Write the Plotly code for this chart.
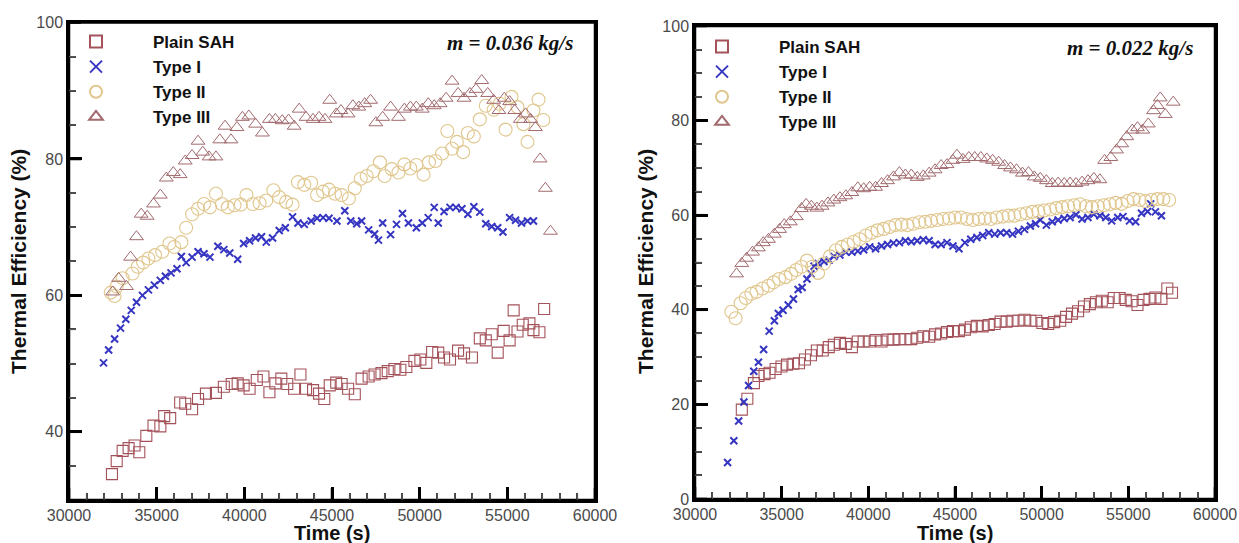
import plotly.graph_objects as go

# ---------------- data ----------------
series_names = ["Plain SAH", "Type I", "Type II", "Type III"]
x_ticks = [30000, 35000, 40000, 45000, 50000, 55000, 60000]
x_minor_ticks = [v for v in range(31000, 60000, 1000) if v % 5000]
left_y_ticks = [40, 60, 80, 100]
left_y_minor = [35, 45, 50, 55, 65, 70, 75, 85, 90, 95]
right_y_ticks = [0, 20, 40, 60, 80, 100]
right_y_minor = [5, 10, 15, 25, 30, 35, 45, 50, 55, 65, 70, 75, 85, 90, 95]
left_note = "m = 0.036 kg/s"
right_note = "m = 0.022 kg/s"

# Left panel: m = 0.036 kg/s
L_plain_t = [32450, 32720, 33060, 33400, 33740, 34010, 34410, 34820, 35210, 35430, 35770, 36340, 36630, 37020, 37360,
             37810, 38380, 38830, 39280, 39620, 39960, 40300, 40710, 41090, 41430, 41770, 42110, 42450, 42840, 43200,
             43520, 43920, 44260, 44560, 44870, 45240, 45550, 45920, 46300, 46690, 47090, 47430, 47820, 48180, 48560,
             48900, 49240, 49700, 50040, 50380, 50710, 51060, 51390, 51730, 52190, 52530, 52980, 53430, 53770, 54110,
             54450, 54790, 55130, 55360, 55580, 55880, 56260, 56490, 56830, 57100]
L_plain_eff = [33.8, 35.7, 37.2, 37.6, 38.0, 37.0, 39.4, 40.9, 40.8, 42.3, 42.0, 44.3, 44.1, 43.3, 44.8,
               45.6, 45.7, 46.6, 47.0, 47.1, 46.8, 46.3, 47.6, 48.1, 45.8, 47.1, 47.8, 47.0, 46.3, 48.4,
               46.3, 46.1, 45.6, 44.8, 46.8, 47.2, 47.0, 46.3, 45.5, 47.8, 48.1, 48.4, 48.6, 48.9, 49.2,
               49.1, 49.5, 50.4, 50.6, 50.1, 51.7, 51.6, 50.9, 50.6, 51.9, 51.5, 50.9, 53.7, 53.4, 54.3,
               51.6, 54.8, 53.4, 57.8, 54.7, 55.7, 55.9, 54.9, 54.6, 58.0]

L_t1_t = [31970, 32260, 32600, 32940, 33240, 33550, 33850, 34190, 34530, 34870, 35210, 35500, 35820, 36160, 36410,
          36680, 37020, 37360, 37700, 38040, 38490, 38830, 39170, 39620, 39960, 40300, 40640, 40980, 41250, 41610,
          41990, 42340, 42750, 43060, 43420, 43810, 44150, 44490, 44830, 45280, 45730, 46070, 46410, 46690, 47090,
          47430, 47650, 47890, 48340, 48680, 49020, 49360, 49810, 50150, 50490, 50830, 51060, 51390, 51730, 52070,
          52410, 52750, 53090, 53430, 53770, 54110, 54450, 54750, 55130, 55470, 55810, 56150, 56490]
L_t1_eff = [50.1, 52.0, 53.6, 55.2, 56.5, 57.8, 59.0, 60.0, 60.8, 61.5, 62.2, 62.8, 63.3, 63.9, 65.7,
            64.8, 65.6, 66.4, 66.1, 65.6, 67.2, 66.7, 66.2, 65.3, 67.6, 68.0, 68.4, 68.6, 67.8, 68.4,
            69.5, 69.9, 71.5, 70.6, 70.4, 70.9, 71.3, 71.4, 71.3, 70.9, 72.4, 70.9, 70.5, 70.9, 69.6,
            69.0, 68.1, 70.6, 68.9, 70.4, 72.0, 70.6, 69.9, 70.6, 71.4, 72.9, 70.6, 72.3, 72.9, 72.9,
            72.7, 71.9, 73.0, 72.2, 70.5, 70.1, 69.9, 69.3, 71.4, 71.0, 70.6, 70.9, 70.9]

L_t2_t = [32380, 32600, 32720, 33060, 33620, 33920, 34230, 34530, 34910, 35320, 35730, 36000, 36410, 36680, 37020,
          37360, 37700, 38040, 38380, 38720, 39060, 39440, 39800, 40120, 40480, 40870, 41250, 41660, 41990, 42380,
          42750, 43060, 43420, 43810, 44150, 44490, 44830, 45170, 45550, 45960, 46300, 46640, 46980, 47360, 47730,
          48000, 48410, 48790, 49130, 49470, 49810, 50220, 50530, 50900, 51280, 51580, 51850, 52120, 52480, 52750,
          53090, 53430, 53770, 54220, 54560, 54900, 55240, 55580, 55920, 56150, 56490, 56780, 57050]
L_t2_eff = [60.4, 59.9, 61.3, 62.5, 63.2, 64.2, 64.8, 65.4, 65.9, 66.4, 67.6, 67.1, 67.8, 69.9, 71.9,
            72.7, 73.4, 72.9, 74.9, 73.4, 72.9, 73.2, 73.3, 74.7, 73.4, 73.5, 73.9, 75.4, 74.4, 73.7,
            73.3, 76.6, 76.2, 76.5, 74.7, 75.2, 75.5, 74.9, 74.7, 74.2, 75.7, 77.1, 77.5, 78.2, 79.5,
            77.5, 78.5, 78.0, 79.2, 78.6, 79.1, 77.7, 79.5, 79.7, 80.8, 84.1, 81.5, 82.5, 81.0, 83.8,
            83.3, 85.8, 87.8, 87.2, 88.1, 84.3, 89.1, 87.6, 85.1, 82.5, 87.1, 88.7, 85.7]

L_t3_t = [32490, 32830, 33280, 33510, 33850, 34120, 34460, 34820, 35210, 35550, 35950, 36340, 36630, 37020, 37360,
          37630, 37990, 38380, 38600, 38900, 39240, 39580, 39890, 40260, 40640, 41030, 41430, 41770, 42160, 42520,
          42840, 43130, 43520, 43920, 44260, 44600, 44870, 45240, 45510, 45920, 46190, 46530, 46870, 47200, 47500,
          47890, 48340, 48790, 49130, 49470, 49810, 50150, 50490, 50830, 51170, 51510, 51850, 52190, 52530, 52870,
          53210, 53540, 53880, 54220, 54520, 54830, 55130, 55420, 55740, 56040, 56330, 56600, 56870, 57170, 57460]
L_t3_eff = [60.5, 62.5, 61.3, 65.6, 68.6, 71.9, 71.6, 73.4, 74.7, 77.2, 78.0, 77.7, 79.7, 80.5, 82.6,
            81.0, 80.3, 80.3, 82.8, 84.8, 82.8, 84.6, 86.1, 86.3, 85.1, 83.8, 85.8, 85.8, 85.6, 85.7,
            84.8, 87.3, 86.1, 85.8, 86.1, 85.8, 88.6, 86.6, 87.1, 86.6, 87.8, 87.6, 88.1, 88.6, 85.3,
            86.1, 87.6, 86.1, 87.3, 87.6, 87.6, 87.3, 88.1, 87.8, 88.1, 88.9, 91.4, 89.6, 88.9, 89.6,
            90.2, 91.5, 89.6, 88.6, 87.1, 88.9, 88.4, 87.1, 85.8, 86.6, 85.8, 84.6, 80.0, 75.7, 69.4]

# Right panel: m = 0.022 kg/s
R_plain_t = [32700, 33020, 33400, 33660, 34010, 34300, 34650, 34990, 35310, 35680, 36000, 36340, 36690, 37030, 37370,
             37720, 38010, 38360, 38700, 39050, 39390, 39730, 40080, 40420, 40760, 41110, 41450, 41790, 42140, 42480,
             42820, 43170, 43510, 43850, 44200, 44540, 44880, 45230, 45570, 45910, 46260, 46600, 46950, 47290, 47630,
             47980, 48320, 48660, 49010, 49350, 49690, 50040, 50380, 50720, 51070, 51410, 51750, 52100, 52440, 52780,
             53130, 53470, 53810, 54160, 54500, 54850, 55190, 55530, 55880, 56220, 56560, 56910, 57250, 57520]
R_plain_eff = [18.9, 21.2, 24.5, 26.0, 26.4, 26.7, 27.5, 28.0, 28.4, 28.6, 28.7, 29.5, 30.4, 31.4, 31.4,
               32.1, 32.6, 33.0, 32.8, 32.1, 33.3, 33.3, 33.3, 33.6, 33.3, 33.7, 33.7, 33.8, 33.8, 33.8,
               34.1, 34.4, 34.3, 34.8, 35.0, 35.3, 35.5, 35.5, 35.8, 36.3, 36.6, 36.5, 36.8, 37.0, 37.5,
               37.5, 37.7, 37.7, 37.9, 37.7, 37.7, 37.2, 37.0, 37.4, 37.7, 38.5, 39.2, 39.7, 40.7, 41.2,
               41.6, 41.9, 41.6, 42.5, 42.5, 42.1, 41.8, 41.0, 42.1, 42.3, 42.6, 42.3, 44.5, 43.6]

R_t1_t = [31880, 32240, 32520, 32820, 33090, 33390, 33660, 33960, 34280, 34580, 34810, 35080, 35380, 35680, 35950,
          36180, 36460, 36690, 36870, 37100, 37440, 37740, 38010, 38360, 38700, 39050, 39390, 39730, 40080, 40420,
          40760, 41110, 41450, 41790, 42140, 42480, 42820, 43170, 43510, 43850, 44200, 44540, 44880, 45230, 45570,
          45910, 46260, 46600, 46950, 47290, 47630, 47980, 48320, 48660, 49010, 49350, 49650, 49920, 50270, 50610,
          50950, 51300, 51640, 51980, 52330, 52670, 53010, 53360, 53700, 54040, 54390, 54690, 55070, 55420, 55760,
          56110, 56290, 56560, 56910]
R_t1_eff = [7.7, 12.3, 16.5, 20.5, 24.0, 27.0, 28.9, 31.6, 35.5, 37.7, 39.2, 39.9, 41.0, 42.3, 44.3,
            44.7, 46.5, 47.6, 49.2, 49.8, 50.2, 50.5, 51.3, 51.6, 52.2, 52.2, 52.4, 52.7, 53.3, 52.9,
            53.5, 53.8, 54.1, 54.2, 54.6, 54.4, 54.6, 54.8, 54.6, 53.8, 53.8, 54.2, 53.5, 52.9, 54.2,
            54.9, 55.3, 55.7, 56.3, 56.0, 56.3, 56.3, 56.0, 56.6, 57.0, 57.7, 58.2, 59.0, 57.9, 58.6,
            59.0, 59.3, 59.5, 60.1, 59.2, 59.5, 60.2, 59.9, 59.5, 58.8, 59.5, 59.7, 58.8, 58.6, 60.4,
            60.8, 62.4, 60.7, 59.9]

R_t2_t = [32100, 32340, 32630, 32930, 33250, 33550, 33890, 34240, 34530, 34850, 35220, 35540, 35840, 36140, 36460,
          36760, 37100, 37440, 37790, 38130, 38470, 38820, 39160, 39500, 39850, 40190, 40530, 40880, 41220, 41560,
          41910, 42250, 42590, 42940, 43280, 43620, 43970, 44310, 44660, 45000, 45340, 45690, 46030, 46370, 46720,
          47060, 47400, 47750, 48090, 48430, 48780, 49120, 49460, 49810, 50150, 50490, 50840, 51180, 51520, 51870,
          52210, 52560, 52900, 53240, 53590, 53930, 54270, 54620, 54960, 55300, 55650, 55990, 56330, 56680, 57020,
          57360]
R_t2_eff = [39.6, 38.2, 41.4, 42.5, 43.4, 43.8, 44.5, 45.1, 45.8, 46.5, 46.9, 47.6, 48.4, 49.1, 50.4,
            49.1, 47.8, 49.8, 51.3, 52.6, 53.3, 53.8, 54.4, 54.9, 55.7, 56.3, 56.8, 57.1, 57.5, 57.9,
            58.0, 57.9, 58.2, 58.5, 58.6, 58.8, 59.0, 59.2, 59.3, 59.5, 59.5, 59.2, 59.0, 59.2, 59.3,
            59.2, 59.5, 59.7, 59.9, 59.9, 60.2, 60.4, 60.7, 60.8, 61.0, 61.2, 61.5, 61.7, 61.9, 62.1,
            62.3, 61.9, 61.7, 61.9, 62.1, 62.3, 62.6, 62.4, 63.0, 63.4, 63.2, 63.0, 63.2, 63.4, 63.4,
            63.2]

R_t3_t = [32400, 32700, 32980, 33320, 33660, 33940, 34240, 34580, 34880, 35150, 35500, 35840, 36140, 36410, 36710,
          37030, 37330, 37670, 38010, 38360, 38700, 39050, 39390, 39730, 40080, 40420, 40760, 41110, 41450, 41790,
          42140, 42480, 42820, 43170, 43510, 43850, 44200, 44540, 44880, 45110, 45460, 45800, 46140, 46490, 46830,
          47170, 47520, 47860, 48200, 48550, 48890, 49240, 49580, 49920, 50270, 50610, 50950, 51300, 51640, 51980,
          52330, 52670, 53010, 53360, 53630, 53990, 54320, 54620, 54910, 55230, 55530, 55830, 56150, 56450, 56680,
          56840, 57130, 57590]
R_t3_eff = [47.6, 49.8, 50.9, 52.2, 53.1, 54.2, 54.9, 56.0, 57.0, 58.0, 58.6, 59.7, 61.4, 62.3, 61.9,
            61.5, 61.9, 62.6, 63.2, 63.7, 64.1, 64.8, 65.8, 65.6, 65.9, 65.9, 66.7, 67.3, 68.1, 69.0,
            68.5, 68.5, 68.0, 68.3, 68.9, 69.6, 70.5, 70.7, 71.6, 72.7, 71.8, 72.2, 72.2, 72.2, 71.9,
            71.6, 71.2, 70.5, 70.0, 69.6, 68.9, 69.0, 68.1, 67.8, 67.3, 66.7, 66.8, 66.7, 66.8, 66.7,
            67.0, 67.3, 67.8, 67.5, 71.6, 72.2, 73.8, 75.1, 76.6, 78.0, 78.5, 78.0, 79.3, 82.1, 83.2,
            84.8, 81.3, 83.9]

# ---------------- styling ----------------
W, H = 1239, 543
styles = [
    dict(symbol="square-open", size=11, color="#a4525a", lw=1.1),
    dict(symbol="x-thin-open", size=7, color="#3535c2", lw=2.0),
    dict(symbol="circle-open", size=13, color="#e0c68c", lw=1.1),
    dict(symbol="triangle-up-open", size=12, color="#a26a6e", lw=1.0),
]

left_data = [(L_plain_t, L_plain_eff), (L_t1_t, L_t1_eff), (L_t2_t, L_t2_eff), (L_t3_t, L_t3_eff)]
right_data = [(R_plain_t, R_plain_eff), (R_t1_t, R_t1_eff), (R_t2_t, R_t2_eff), (R_t3_t, R_t3_eff)]

fig = go.Figure()
for panel, data, legend_id in [(1, left_data, "legend"), (2, right_data, "legend2")]:
    for name, (xs, ys), st in zip(series_names, data, styles):
        fig.add_trace(go.Scatter(
            x=xs, y=ys, mode="markers", name=name,
            xaxis="x" if panel == 1 else "x2",
            yaxis="y" if panel == 1 else "y2",
            legend=legend_id,
            marker=dict(symbol=st["symbol"], size=st["size"], color=st["color"],
                        line=dict(width=st["lw"], color=st["color"])),
        ))

# empty traces so that the minor-tick overlay axes exist
fig.add_trace(go.Scatter(x=[], y=[], xaxis="x3", yaxis="y3", showlegend=False, hoverinfo="skip"))
fig.add_trace(go.Scatter(x=[], y=[], xaxis="x4", yaxis="y4", showlegend=False, hoverinfo="skip"))

tick_font = dict(family="Liberation Sans, Arial, sans-serif", size=16, color="#4a4a4a")

def major_x(domain, anchor):
    return dict(domain=domain, range=[30000, 60000], tickmode="array", tickvals=x_ticks,
                ticktext=[str(v) for v in x_ticks], anchor=anchor, automargin=False,
                ticks="inside", ticklen=13, tickwidth=2.5, tickcolor="#000000",
                showline=True, linewidth=2.5, linecolor="#000000", mirror=True,
                showgrid=False, zeroline=False, tickfont=tick_font, ticklabelstandoff=-1)

def major_y(domain, rng, ticks, anchor):
    return dict(domain=domain, range=rng, tickmode="array", tickvals=ticks,
                ticktext=[str(v) for v in ticks], anchor=anchor, automargin=False,
                ticks="inside", ticklen=13, tickwidth=2.5, tickcolor="#000000",
                showline=True, linewidth=2.5, linecolor="#000000", mirror=True,
                showgrid=False, zeroline=False, tickfont=tick_font)

def minor_x(domain, overlay, anchor):
    return dict(domain=domain, range=[30000, 60000], overlaying=overlay, anchor=anchor, side="bottom",
                tickmode="array", tickvals=x_minor_ticks, showticklabels=False, automargin=False,
                ticks="inside", ticklen=7, tickwidth=1.5, tickcolor="#444444",
                showline=False, showgrid=False, zeroline=False)

def minor_y(domain, rng, vals, overlay, anchor):
    return dict(domain=domain, range=rng, overlaying=overlay, anchor=anchor, side="left",
                tickmode="array", tickvals=vals, showticklabels=False, automargin=False,
                ticks="inside", ticklen=7, tickwidth=1.5, tickcolor="#444444",
                showline=False, showgrid=False, zeroline=False)

lx = [69 / W, 595 / W]
ly = [1 - 500 / H, 1 - 22.5 / H]
rx = [695 / W, 1215 / W]
ry = [1 - 499 / H, 1 - 26 / H]

legend_font = dict(family="Liberation Sans, Arial, sans-serif", size=17, color="#111", weight="bold")
title_font = dict(family="Liberation Sans, Arial, sans-serif", size=20, color="#111")
note_font = dict(family="Liberation Serif, Times New Roman, serif", size=21, color="#111")

# frame of each panel, in the axes' own domain coordinates
frames = [dict(type="rect", xref=xr, yref=yr, x0=0, x1=1, y0=0, y1=1, layer="above",
               line=dict(color="#000000", width=2.5), fillcolor="rgba(0,0,0,0)")
          for xr, yr in [("x domain", "y domain"), ("x2 domain", "y2 domain")]]


def tick_marks(xr, yr, xmaj, xmin, ymaj, ymin, wpx, hpx):
    """Inside tick marks placed through the axes' scales (positions taken from the tick lists)."""
    out = []
    for vals, length, width, color in [(xmaj, 12, 2.5, "#000000"), (xmin, 6, 1.3, "#555555")]:
        for v in vals:
            out.append(dict(type="line", xref=xr, yref=yr + " domain", x0=v, x1=v, y0=0, y1=length / hpx,
                            layer="above", line=dict(color=color, width=width)))
    for vals, length, width, color in [(ymaj, 12, 2.5, "#000000"), (ymin, 6, 1.3, "#555555")]:
        for v in vals:
            out.append(dict(type="line", xref=xr + " domain", yref=yr, x0=0, x1=length / wpx, y0=v, y1=v,
                            layer="above", line=dict(color=color, width=width)))
    return out


tick_shapes = (tick_marks("x", "y", x_ticks, x_minor_ticks, left_y_ticks, left_y_minor, 526.0, 477.5)
               + tick_marks("x2", "y2", x_ticks, x_minor_ticks, right_y_ticks, right_y_minor, 520.0, 473.0))

fig.update_layout(
    template="none",
    width=W, height=H, margin=dict(l=0, r=0, t=0, b=0, autoexpand=False),
    paper_bgcolor="white", plot_bgcolor="white",
    xaxis=major_x(lx, "y"), yaxis=major_y(ly, [30, 100], left_y_ticks, "x"),
    xaxis2=major_x(rx, "y2"), yaxis2=major_y(ry, [0, 100], right_y_ticks, "x2"),
    xaxis3=minor_x(lx, "x", "y"), yaxis3=minor_y(ly, [30, 100], left_y_minor, "y", "x"),
    xaxis4=minor_x(rx, "x2", "y2"), yaxis4=minor_y(ry, [0, 100], right_y_minor, "y2", "x2"),
    shapes=frames + tick_shapes,
    legend=dict(x=39 / W, y=1 - 24 / H, xanchor="left", yanchor="top", bgcolor="rgba(0,0,0,0)",
                font=legend_font, itemwidth=104, tracegroupgap=0, itemsizing="constant"),
    legend2=dict(x=665 / W, y=1 - 29 / H, xanchor="left", yanchor="top", bgcolor="rgba(0,0,0,0)",
                 font=legend_font, itemwidth=104, tracegroupgap=0, itemsizing="constant"),
    showlegend=True,
    annotations=[
        dict(text="<b><i>" + left_note + "</i></b>", x=510 / W, y=1 - 43 / H, xref="paper", yref="paper",
             showarrow=False, font=note_font, xanchor="center", yanchor="middle"),
        dict(text="<b><i>" + right_note + "</i></b>", x=1130 / W, y=1 - 48 / H, xref="paper", yref="paper",
             showarrow=False, font=note_font, xanchor="center", yanchor="middle"),
        dict(text="<b>Thermal Efficiency (%)</b>", x=18 / W, y=1 - 262 / H, xref="paper", yref="paper",
             showarrow=False, font=dict(title_font, size=21), textangle=-90, xanchor="center", yanchor="middle"),
        dict(text="<b>Thermal Efficiency (%)</b>", x=645 / W, y=1 - 262 / H, xref="paper", yref="paper",
             showarrow=False, font=dict(title_font, size=21), textangle=-90, xanchor="center", yanchor="middle"),
        dict(text="<b>Time (s)</b>", x=332 / W, y=1 - 533 / H, xref="paper", yref="paper",
             showarrow=False, font=title_font, xanchor="center", yanchor="middle"),
        dict(text="<b>Time (s)</b>", x=955 / W, y=1 - 533 / H, xref="paper", yref="paper",
             showarrow=False, font=title_font, xanchor="center", yanchor="middle"),
    ],
)

fig.write_html("out.html", config={"displayModeBar": False},
               post_script="document.body.style.margin='0';document.body.style.overflow='hidden';")
